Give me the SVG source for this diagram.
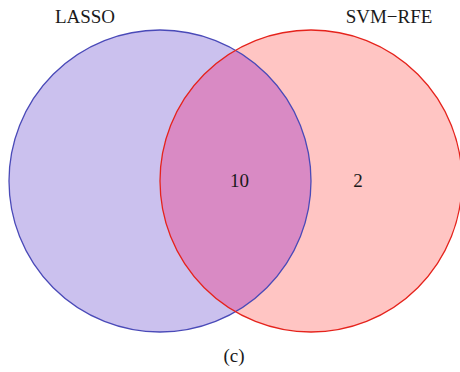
<svg xmlns="http://www.w3.org/2000/svg" width="460" height="372" viewBox="0 0 460 372">
<style>
text{font-family:"Liberation Serif","Times New Roman",serif;font-size:19px;fill:#1a1a1a;text-anchor:middle}
</style>
<defs>
<clipPath id="clipL"><circle cx="160" cy="181" r="151"/></clipPath>
</defs>
<rect width="460" height="372" fill="#ffffff"/>
<g id="lasso">
<circle cx="160" cy="181" r="151" fill="#cbc1ee"/>
</g>
<g id="svmrfe">
<circle cx="311" cy="181" r="151" fill="#ffc5c3"/>
</g>
<g id="overlap">
<circle cx="311" cy="181" r="151" fill="#d98ac4" clip-path="url(#clipL)"/>
</g>
<g id="outlines">
<circle cx="160" cy="181" r="151" fill="none" stroke="#4a4ab8" stroke-width="1.3"/>
<circle cx="311" cy="181" r="151" fill="none" stroke="#e5231c" stroke-width="1.3"/>
</g>
<g id="labels">
<text x="85" y="23">LASSO</text>
<text x="389" y="23">SVM−RFE</text>
<text x="239.5" y="187">10</text>
<text x="358" y="187">2</text>
<text x="234" y="362">(c)</text>
</g>
</svg>
